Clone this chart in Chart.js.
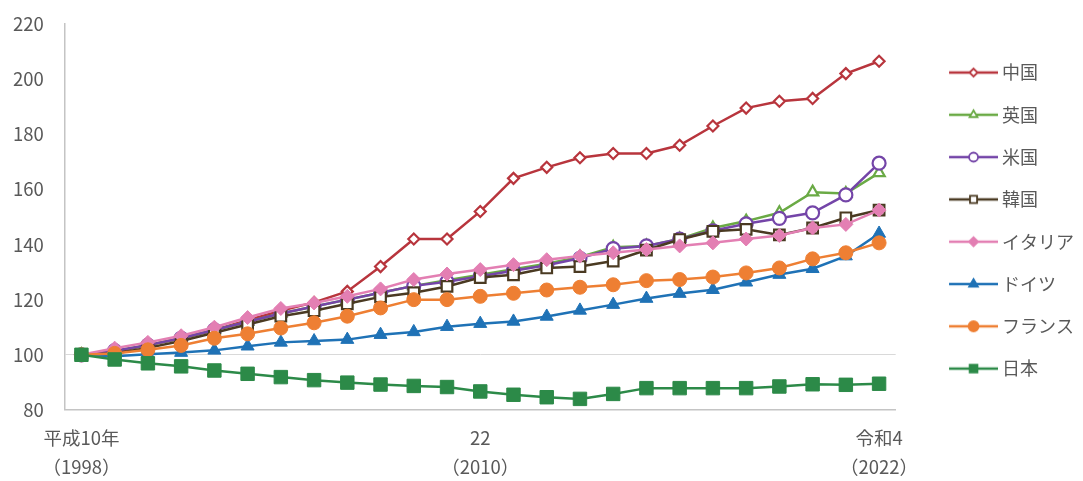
<!DOCTYPE html>
<html lang="ja">
<head>
<meta charset="utf-8">
<script src="https://cdn.jsdelivr.net/npm/chart.js@4/dist/chart.umd.min.js"></script>
<style>
  html, body { margin: 0; padding: 0; background: #fff; }
</style>
</head>
<body>
<canvas id="wage_chart" width="1083" height="481"></canvas>
<script>
// 1998 = 100
var years = [1998, 1999, 2000, 2001, 2002, 2003, 2004, 2005, 2006, 2007, 2008, 2009, 2010,
             2011, 2012, 2013, 2014, 2015, 2016, 2017, 2018, 2019, 2020, 2021, 2022];
var yearTicks = {
  1998: ['平成10年', '（1998）'],
  2010: ['22', '（2010）'],
  2022: ['令和4', '（2022）']
};
var countries = ['中国', '英国', '米国', '韓国', 'イタリア', 'ドイツ', 'フランス', '日本'];

var china   = [100, 101, 103.5, 106, 109, 112.5, 116, 119, 123, 132, 142, 142, 152, 164, 168, 171.5, 173, 173, 176, 183, 189.5, 192, 193, 202, 206.5];
var uk      = [100, 101.5, 103.5, 106, 109, 112, 115, 117.5, 120, 122.5, 125, 127, 129, 131, 133, 135.5, 139, 139.5, 142, 146, 148.5, 151.5, 159, 158.5, 166];
var us      = [100, 101.5, 103.5, 106, 109, 112, 115, 117.5, 120, 122.5, 125, 126.5, 128.5, 130.5, 132.5, 135, 138.5, 139.5, 142, 145, 147.5, 149.5, 151.5, 158, 169.5];
var korea   = [100, 100.5, 102.5, 105, 108, 111, 114, 116, 118.5, 121, 122.5, 124.8, 128, 129, 131.5, 132, 134, 138, 141.8, 144.8, 145.5, 143.5, 146, 149.7, 152.5];
var italy   = [100, 102.4, 104.5, 106.9, 110, 113.5, 116.8, 118.8, 121.2, 123.9, 127.3, 129.3, 130.9, 132.7, 134.5, 135.8, 137, 138.2, 139.5, 140.6, 142, 143.3, 146, 147.3, 152.5];
var germany = [100, 99.5, 100.2, 100.8, 101.6, 103.1, 104.5, 105, 105.5, 107.3, 108.3, 110.2, 111.3, 112.1, 113.9, 116.1, 118.2, 120.4, 122.2, 123.6, 126.3, 129.1, 131.2, 135.8, 144];
var france  = [100, 100.5, 101.8, 103.4, 106, 107.6, 109.7, 111.6, 114, 117, 120, 120, 121.2, 122.3, 123.5, 124.5, 125.4, 126.9, 127.3, 128.2, 129.7, 131.5, 134.8, 137, 140.6];
var japan   = [100, 98.3, 96.9, 95.8, 94.3, 93.1, 91.9, 90.8, 89.9, 89.2, 88.7, 88.3, 86.7, 85.5, 84.6, 84, 85.8, 87.9, 87.9, 87.9, 87.9, 88.5, 89.3, 89.1, 89.5];

var series = [china, uk, us, korea, italy, germany, france, japan];

// look of each line
var colors  = ['#b8353d', '#6aaa45', '#7445a8', '#4a3a22', '#e37fb3', '#1f72b6', '#ee7f33', '#2c8a48'];
var markers = ['rectRot', 'triangle', 'circle', 'rect', 'rectRot', 'triangle', 'circle', 'rect'];
var hollow  = [true, true, true, true, false, false, false, false];
var radii   = [5.5, 6.5, 6.5, 7.5, 7, 7.5, 7, 9.5];
var legendRadii = [4, 4.5, 4.5, 5, 4.5, 5, 5, 5.5];

var textColor = '#595959';
var fontFamily = '"Noto Sans CJK JP", "Noto Sans", sans-serif';

// small marker drawing for the legend icons
function marker(g, style, r, x, y) {
  g.beginPath();
  if (style === 'circle') {
    g.arc(x, y, r, 0, Math.PI * 2);
  } else if (style === 'rect') {
    var s = r * Math.SQRT1_2;
    g.rect(x - s, y - s, 2 * s, 2 * s);
  } else if (style === 'rectRot') {
    g.moveTo(x - r, y); g.lineTo(x, y - r); g.lineTo(x + r, y); g.lineTo(x, y + r);
    g.closePath();
  } else if (style === 'triangle') {
    var w = r * Math.sqrt(3) / 2;
    g.moveTo(x - w, y + r / 2); g.lineTo(x, y - r); g.lineTo(x + w, y + r / 2);
    g.closePath();
  }
  g.fill();
  g.stroke();
}

// line-with-marker icon. The image is wider than the legend box it sits in:
// blank on the left keeps it clear of the plot, the line runs up close to the text.
var boxW = 73, iconW = boxW + 10, lineStart = 34;
function legendIcon(i) {
  var c = document.createElement('canvas');
  c.width = iconW; c.height = 16;
  var g = c.getContext('2d');
  g.strokeStyle = colors[i];
  g.lineWidth = 2.5;
  g.beginPath(); g.moveTo(lineStart, 8); g.lineTo(iconW, 8); g.stroke();
  g.fillStyle = hollow[i] ? '#fff' : colors[i];
  g.lineWidth = 1.8;
  marker(g, markers[i], legendRadii[i], (lineStart + iconW) / 2, 8);
  return c;
}
var icons = countries.map(function (c, i) { return legendIcon(i); });

var datasets = countries.map(function (name, i) {
  return {
    label: name,
    data: series[i],
    borderColor: colors[i],
    borderWidth: 2.5,
    pointStyle: markers[i],
    pointRadius: radii[i],
    pointBackgroundColor: hollow[i] ? '#fff' : colors[i],
    pointBorderColor: colors[i],
    pointBorderWidth: hollow[i] ? 2.2 : 1,
    tension: 0,
    order: countries.length - 1 - i
  };
});

var ctx = document.getElementById('wage_chart').getContext('2d');
var myChart = new Chart(ctx, {
  type: 'line',
  data: { labels: years, datasets: datasets },
  options: {
    responsive: false,
    animation: false,
    layout: { padding: { left: -8, top: 24, right: -1, bottom: -6 } },
    plugins: {
      tooltip: { enabled: false },
      legend: {
        position: 'right',
        fullSize: false,
        align: 'center',
        // blank title only nudges the list down a little
        title: { display: true, text: ' ', font: { size: 6 } },
        labels: {
          usePointStyle: true,
          pointStyleWidth: boxW,
          padding: 24.3,
          color: textColor,
          font: { family: fontFamily, size: 18 },
          generateLabels: function (chart) {
            return chart.data.datasets.map(function (ds, i) {
              return {
                text: ds.label,
                pointStyle: icons[i],
                fillStyle: 'rgba(0,0,0,0)',
                strokeStyle: 'rgba(0,0,0,0)',
                lineWidth: 0,
                hidden: false,
                fontColor: textColor,
                datasetIndex: i
              };
            });
          }
        }
      }
    },
    scales: {
      x: {
        type: 'category',
        offset: true,
        grid: { display: false },
        border: { color: '#c4c4c4', width: 1.5 },
        ticks: {
          autoSkip: false,
          maxRotation: 0,
          padding: 5.5,
          color: textColor,
          font: { family: fontFamily, size: 18.5, lineHeight: 1.57 },
          callback: function (value, index) {
            return yearTicks[years[index]] || '';
          }
        }
      },
      y: {
        min: 80,
        max: 220,
        border: { color: '#c4c4c4', width: 1.5 },
        grid: {
          drawTicks: false,
          color: function (c) { return c.tick && c.tick.value === 100 ? '#d9d9d9' : 'rgba(0,0,0,0)'; }
        },
        ticks: {
          stepSize: 20,
          padding: 21,
          color: textColor,
          font: { family: fontFamily, size: 18.5 }
        },
        // the wide label gap shouldn't push the plot top down
        afterFit: function (scale) { scale.paddingTop = 11; }
      }
    }
  }
});
</script>
</body>
</html>
